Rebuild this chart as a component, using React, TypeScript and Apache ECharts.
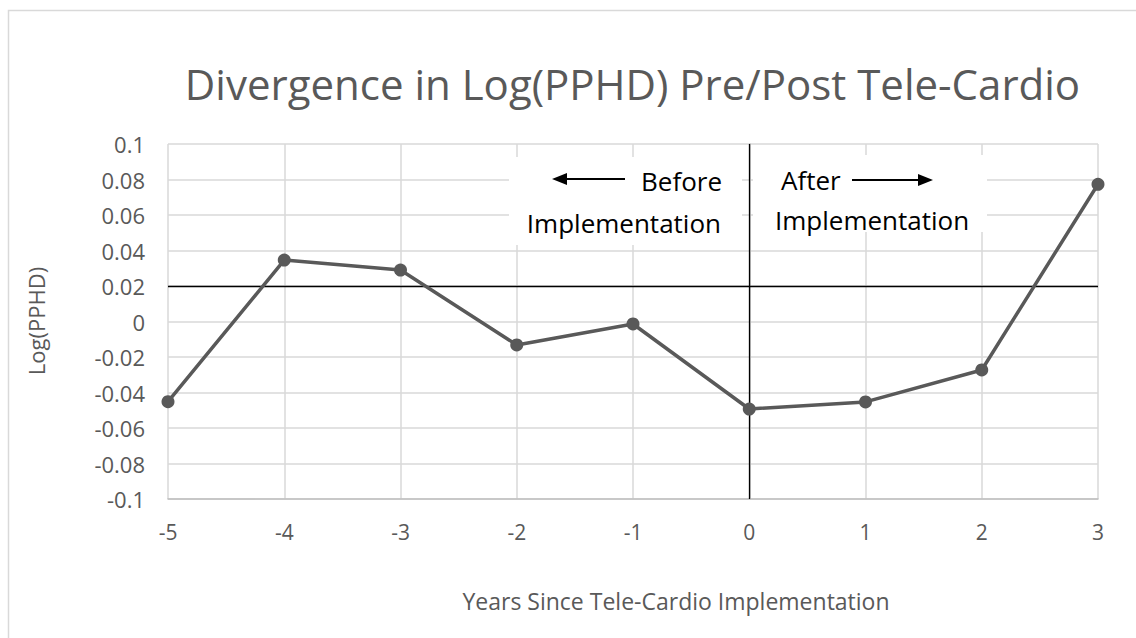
import React, { useEffect, useRef } from "react";
import * as echarts from "echarts";

const years = [-5, -4, -3, -2, -1, 0, 1, 2, 3];
const logPPHD = [-0.0452, 0.0346, 0.029, -0.0132, -0.0014, -0.0493, -0.0453, -0.0273, 0.0773];
const yTicks = { min: -0.1, max: 0.1, interval: 0.02 };
const xTicks = { min: -5, max: 3, interval: 1 };
const refValue = 0.02;
const implYear = 0;

const titleText = "Divergence in Log(PPHD) Pre/Post Tele-Cardio";
const xName = "Years Since Tele-Cardio Implementation";
const yName = "Log(PPHD)";

const FONT = "'Open Sans', 'Noto Sans', sans-serif";
const GRAY = "#595959";

export default function App() {
  const ref = useRef<HTMLDivElement>(null);
  useEffect(() => {
    if (!ref.current) return;
    const chart = echarts.init(ref.current, null, { renderer: "svg" });
    const fmtY = (v: number) => {
      const r = Math.round(v * 100) / 100;
      if (Math.abs(r) < 1e-9) return "0";
      return String(r);
    };
    chart.setOption({
      animation: false,
      backgroundColor: "#ffffff",
      grid: { left: 168, right: 38, top: 144, bottom: 139 },
      xAxis: {
        type: "value",
        min: xTicks.min,
        max: xTicks.max,
        interval: xTicks.interval,
        axisLine: { show: true, onZero: false, lineStyle: { color: "#bfbfbf", width: 1.5 } },
        axisTick: { show: false },
        splitLine: { show: true, lineStyle: { color: "#d9d9d9", width: 1.5 } },
        axisLabel: { color: GRAY, fontSize: 21, fontFamily: FONT, margin: 22 },
      },
      yAxis: {
        type: "value",
        min: yTicks.min,
        max: yTicks.max,
        interval: yTicks.interval,
        axisLine: { show: true, lineStyle: { color: "#bfbfbf", width: 1.5 } },
        axisTick: { show: false },
        splitLine: { show: true, lineStyle: { color: "#d9d9d9", width: 1.5 } },
        axisLabel: { color: GRAY, fontSize: 22, fontFamily: FONT, margin: 23, formatter: fmtY },
      },
      series: [
        {
          type: "line",
          data: years.map((x, i) => [x, logPPHD[i]]),
          lineStyle: { color: GRAY, width: 3.5 },
          itemStyle: { color: GRAY },
          symbol: "circle",
          symbolSize: 13,
          z: 5,
          markLine: {
            silent: true,
            symbol: "none",
            label: { show: false },
            lineStyle: { color: "#000000", width: 1.3, type: "solid" },
            data: [{ yAxis: refValue }, { xAxis: implYear }],
            z: 3,
          },
        },
      ],
      graphic: [
        {
          type: "rect",
          shape: { x: 8.5, y: 10.5, width: 1200, height: 700 },
          style: { fill: "none", stroke: "#d9d9d9", lineWidth: 1.5 },
          silent: true,
        },
        {
          type: "text",
          x: 632.5,
          y: 83,
          style: { text: titleText, fill: GRAY, font: `42px ${FONT}`, align: "center", verticalAlign: "middle" },
        },
        {
          type: "text",
          x: 676,
          y: 601,
          style: { text: xName, fill: GRAY, font: `23px ${FONT}`, align: "center", verticalAlign: "middle" },
        },
        {
          type: "text",
          x: 36,
          y: 321,
          rotation: Math.PI / 2,
          style: { text: yName, fill: GRAY, font: `22px ${FONT}`, align: "center", verticalAlign: "middle" },
        },
        // Before box
        {
          type: "rect",
          shape: { x: 509, y: 157, width: 233, height: 88 },
          style: { fill: "#ffffff" },
          z: 10,
        },
        {
          type: "text",
          x: 722,
          y: 181,
          z: 11,
          style: { text: "Before", fill: "#000", font: `26px ${FONT}`, align: "right", verticalAlign: "middle" },
        },
        {
          type: "text",
          x: 721,
          y: 223,
          z: 11,
          style: { text: "Implementation", fill: "#000", font: `26px ${FONT}`, align: "right", verticalAlign: "middle" },
        },
        {
          type: "line",
          shape: { x1: 565, y1: 179, x2: 625, y2: 179 },
          style: { stroke: "#000", lineWidth: 2 },
          z: 11,
        },
        {
          type: "polygon",
          shape: { points: [[552, 179], [567, 173], [567, 185]] },
          style: { fill: "#000" },
          z: 11,
        },
        // After box
        {
          type: "rect",
          shape: { x: 753, y: 155, width: 234, height: 77 },
          style: { fill: "#ffffff" },
          z: 10,
        },
        {
          type: "text",
          x: 781,
          y: 180,
          z: 11,
          style: { text: "After", fill: "#000", font: `26px ${FONT}`, align: "left", verticalAlign: "middle" },
        },
        {
          type: "text",
          x: 775,
          y: 220,
          z: 11,
          style: { text: "Implementation", fill: "#000", font: `26px ${FONT}`, align: "left", verticalAlign: "middle" },
        },
        {
          type: "line",
          shape: { x1: 852, y1: 180, x2: 920, y2: 180 },
          style: { stroke: "#000", lineWidth: 2 },
          z: 11,
        },
        {
          type: "polygon",
          shape: { points: [[933, 180], [918, 174], [918, 186]] },
          style: { fill: "#000" },
          z: 11,
        },
      ],
    });
    return () => chart.dispose();
  }, []);
  return (
    <div
      ref={ref}
      style={{ position: "fixed", left: 0, top: 0, width: 1136, height: 638 }}
    />
  );
}
